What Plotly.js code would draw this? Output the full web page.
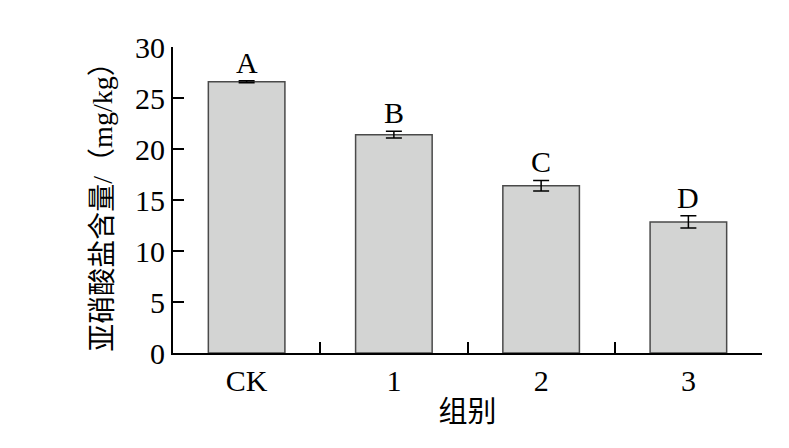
<!DOCTYPE html>
<html>
<head>
<meta charset="utf-8">
<script src="https://cdn.plot.ly/plotly-3.0.1.min.js"></script>
<style>html,body{margin:0;padding:0;background:#fff;}#chart{width:789px;height:448px;}</style>
</head>
<body>
<div id="chart"></div>
<script>
const categories = ["CK", "1", "2", "3"];
const values = [26.6, 21.4, 16.4, 12.85];
const errors = [0.1, 0.33, 0.52, 0.6];
const letters = ["A", "B", "C", "D"];
const yTitle = "亚硝酸盐含量/（mg/kg）";
const xTitle = "组别";

const FONT = "'Liberation Serif', 'Times New Roman', 'Noto Sans CJK SC', serif";

const trace = {
  type: "bar",
  x: categories,
  y: values,
  width: 0.52,
  marker: {color: "#d3d4d3", line: {color: "#4a4a4a", width: 1.5}},
  error_y: {type: "data", array: errors, visible: true, color: "#000", thickness: 1.5, width: 8}
};

const annotations = categories.map((c, i) => ({
  x: c, y: values[i] + errors[i], xref: "x", yref: "y",
  text: letters[i], showarrow: false, yanchor: "bottom", yshift: 0,
  font: {family: FONT, size: 30, color: "#000"}
}));

const layout = {
  width: 789, height: 448,
  margin: {l: 173, r: 27, t: 47, b: 95},
  paper_bgcolor: "#fff", plot_bgcolor: "#fff",
  showlegend: false,
  font: {family: FONT, color: "#000", size: 30},
  xaxis: {
    type: "category",
    showline: true, linecolor: "#000", linewidth: 2,
    ticks: "inside", tickson: "boundaries", ticklen: 11, tickwidth: 2, tickcolor: "#000",
    showgrid: false, zeroline: false,
    tickfont: {family: FONT, size: 30},
    title: {text: xTitle, font: {family: FONT, size: 29}, standoff: 6}
  },
  yaxis: {
    range: [0, 30], tickvals: [0, 5, 10, 15, 20, 25, 30],
    showline: true, linecolor: "#000", linewidth: 2,
    ticks: "inside", ticklen: 11, tickwidth: 2, tickcolor: "#000",
    showgrid: false, zeroline: false,
    tickfont: {family: FONT, size: 30},
    title: {text: yTitle, font: {family: FONT, size: 28}, standoff: 14}
  },
  annotations: annotations
};

Plotly.newPlot("chart", [trace], layout, {displayModeBar: false, staticPlot: true});
</script>
</body>
</html>
